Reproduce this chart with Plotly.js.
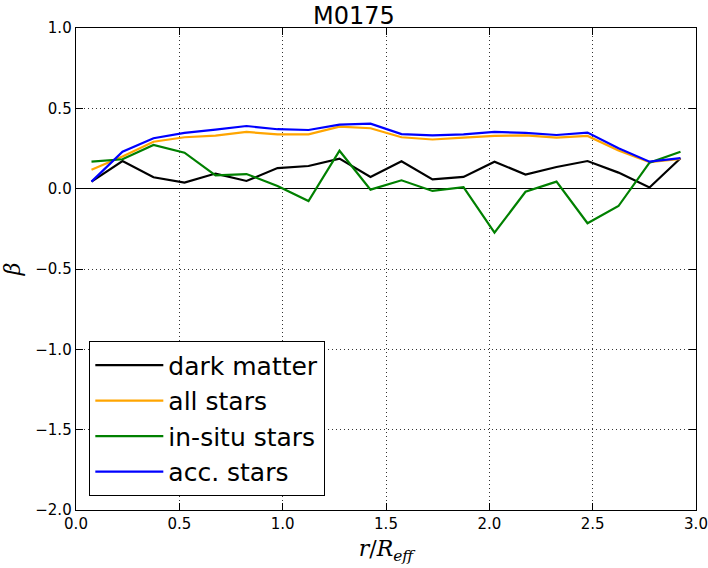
<!DOCTYPE html>
<html>
<head>
<meta charset="utf-8">
<script src="https://cdn.plot.ly/plotly-3.0.1.min.js"></script>
<style>
  html, body { margin: 0; padding: 0; background: #fff; }
  #chart { width: 708px; height: 568px; }
</style>
</head>
<body>
<div id="chart"></div>
<script>
// radial bins (r / R_eff)
var radius = [0.075, 0.225, 0.375, 0.525, 0.675, 0.825, 0.975, 1.125, 1.275, 1.425,
              1.575, 1.725, 1.875, 2.025, 2.175, 2.325, 2.475, 2.625, 2.775, 2.925];

// anisotropy beta per component
var darkMatter = [0.044, 0.172, 0.071, 0.038, 0.094, 0.048, 0.128, 0.141, 0.187, 0.073,
                  0.170, 0.058, 0.073, 0.168, 0.088, 0.135, 0.172, 0.100, 0.007, 0.189];
var allStars   = [0.118, 0.200, 0.292, 0.320, 0.330, 0.353, 0.338, 0.338, 0.386, 0.376,
                  0.320, 0.306, 0.318, 0.328, 0.332, 0.318, 0.328, 0.238, 0.165, 0.185];
var inSitu     = [0.168, 0.183, 0.272, 0.224, 0.083, 0.091, 0.017, -0.077, 0.236, -0.006,
                  0.052, -0.014, 0.009, -0.274, -0.019, 0.044, -0.215, -0.108, 0.162, 0.230];
var accStars   = [0.044, 0.230, 0.314, 0.347, 0.368, 0.390, 0.370, 0.365, 0.399, 0.405,
                  0.340, 0.332, 0.338, 0.353, 0.347, 0.334, 0.349, 0.251, 0.168, 0.190];

var seriesNames  = ['dark matter', 'all stars', 'in-situ stars', 'acc. stars'];
var seriesValues = [darkMatter, allStars, inSitu, accStars];
var seriesColors = ['#000000', '#FFA500', '#008000', '#0000FF'];

var traces = seriesValues.map(function(vals, i) {
    return {
        x: radius,
        y: vals,
        name: seriesNames[i],
        type: 'scatter',
        mode: 'lines',
        line: { color: seriesColors[i], width: 2.2 }
    };
});

var axisCommon = {
    showline: true,
    linecolor: '#000',
    linewidth: 1.3,
    mirror: 'ticks',
    ticks: 'inside',
    ticklen: 7,
    tickwidth: 1,
    tickcolor: '#000',
    showgrid: true,
    gridcolor: '#000',
    gridwidth: 0.8,
    griddash: '1px,3px',
    tickformat: '.1f',
    tickfont: { family: 'DejaVu Sans', size: 15, color: '#000' }
};

var layout = {
    width: 708,
    height: 568,
    margin: { l: 76, r: 12, t: 28, b: 58 },
    paper_bgcolor: '#fff',
    plot_bgcolor: '#fff',
    showlegend: true,
    title: {
        text: 'M0175',
        font: { family: 'DejaVu Sans', size: 24, color: '#000' },
        x: 0.5,
        xanchor: 'center',
        yref: 'paper',
        y: 1,
        yanchor: 'bottom',
        pad: { b: 4 }
    },
    xaxis: Object.assign({}, axisCommon, {
        range: [0, 3],
        dtick: 0.5,
        zeroline: false,
        title: {
            text: '<i>r</i>/<i>R</i><sub><i>eff</i></sub>',
            font: { family: 'DejaVu Serif', size: 22, color: '#000' },
            standoff: 8
        }
    }),
    yaxis: Object.assign({}, axisCommon, {
        range: [-2, 1],
        dtick: 0.5,
        zeroline: true,
        zerolinecolor: '#000',
        zerolinewidth: 1,
        title: {
            text: '<i>β</i>',
            font: { family: 'DejaVu Serif', size: 22, color: '#000' },
            standoff: 12
        }
    }),
    legend: {
        x: 0.021,
        y: 0.029,
        xanchor: 'left',
        yanchor: 'bottom',
        bgcolor: '#fff',
        bordercolor: '#000',
        borderwidth: 1.3,
        font: { family: 'DejaVu Sans', size: 25, color: '#000' },
        tracegroupgap: 0,
        itemwidth: 68
    }
};

Plotly.newPlot('chart', traces, layout, { displayModeBar: false, staticPlot: true });
</script>
</body>
</html>
